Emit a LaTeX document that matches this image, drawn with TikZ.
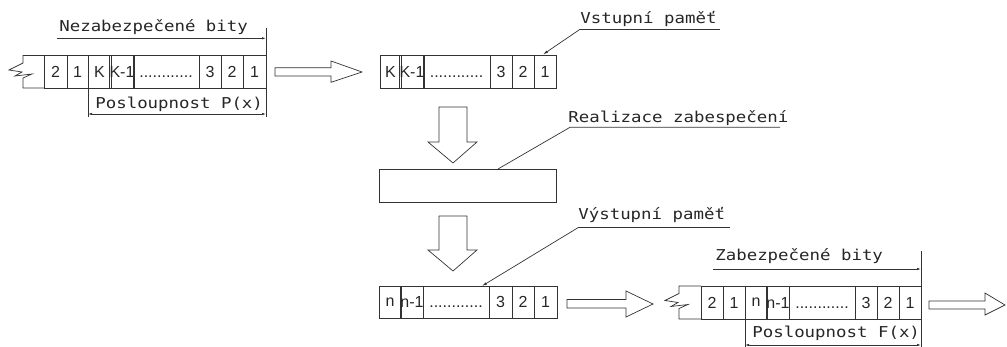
\documentclass[tikz,border=0pt]{standalone}
\usepackage{fontspec}
\newfontfamily\cadfont[FakeStretch=1.16]{DejaVu Sans Mono}
\newfontfamily\cellfont{Liberation Sans}
\usetikzlibrary{arrows.meta}
\newcommand\cellnode[6]{\node[cellbox, minimum width={#3-#2}, minimum height={#5-#4}] (#1) at ({(#2+#3)/2},{(#4+#5)/2}) {#6};}
\newcommand\celldots{\vphantom{1}............}
\begin{document}
\begin{tikzpicture}[x=1pt,y=-1pt,line width=0.7pt,color=black!80,
  cellbox/.style={draw=black!80, inner sep=0pt, outer sep=0pt, font=\cellfont\fontsize{16}{16}\selectfont, text=black!85},
  cadlabel/.style={inner sep=0pt, font=\cadfont\fontsize{15}{18}\selectfont, text=black!85},
  dimtip/.style={-{Latex[length=4pt,width=2.4pt]}},
  dimtips/.style={{Latex[length=4pt,width=2.4pt]}-{Latex[length=4pt,width=2.4pt]}},
  leadtip/.style={-{Latex[length=5pt,width=2.6pt]}},
  hollow/.style={draw=black!80, fill=white, line width=0.7pt}]
\useasboundingbox (0,0) rectangle (1007,347);

% ---------- row 1 (input stream)
\draw (44,55.5) -- (23,55.5) -- (23,63) -- (9,70) -- (22,72) -- (15,76) -- (32,74) -- (23,78) -- (23,88) -- (44,88);
\cellnode{a1}{44}{67}{55.5}{88}{2}
\cellnode{a2}{67}{88}{55.5}{88}{1}
\cellnode{a3}{88}{111}{55.5}{88}{K}
\cellnode{a4}{111}{133}{55.5}{88}{K-1}
\cellnode{a5}{133}{199}{55.5}{88}{\celldots}
\cellnode{a6}{199}{221}{55.5}{88}{3}
\cellnode{a7}{221}{243}{55.5}{88}{2}
\cellnode{a8}{243}{266}{55.5}{88}{1}

\node[cadlabel, anchor=base west] (nezab) at (59,31.7) {Nezabezpečené bity};
\coordinate (d1l) at (57,38.3);
\coordinate (d1r) at (266,38.3);
\draw[dimtip] (d1l) -- (d1r);
\draw (266,28) -- (a8.north east);
\node[cadlabel, anchor=base west] (poslP) at (95,108.5) {Posloupnost P(x)};
\coordinate (d2l) at (88,114);
\coordinate (d2r) at (266,114);
\draw[dimtips] (d2l) -- (d2r);
\draw (a3.south west) -- (88,117);
\draw (a8.south east) -- (266,117);

% hollow arrow 1
\draw[hollow] (275,67.7) -- (331,67.7) -- (331,61) -- (362,72) -- (331,82.3) -- (331,76) -- (275,76) -- cycle;

% ---------- row 2 (input memory)
\cellnode{b1}{380}{401}{55}{88}{K}
\cellnode{b2}{401}{423}{55}{88}{K-1}
\cellnode{b3}{423}{490}{55}{88}{\celldots}
\cellnode{b4}{490}{512}{55}{88}{3}
\cellnode{b5}{512}{534}{55}{88}{2}
\cellnode{b6}{534}{556}{55}{88}{1}
\node[cadlabel, anchor=base west] (vstup) at (580,24) {Vstupní paměť};
\coordinate (vsl) at (580,29.3);
\coordinate (vsr) at (720,29.3);
\draw (vsr) -- (vsl);
\draw[leadtip] (vsl) -- (543,54.5);

% down arrow 1
\draw[hollow] (439,107) -- (467,107) -- (467,142) -- (477,142) -- (453,163) -- (428,142) -- (439,142) -- cycle;

% ---------- processing block
\node[draw=black!80, inner sep=0pt, minimum width=177pt, minimum height=33pt] (proc) at (467.5,185.5) {};
\node[cadlabel, anchor=base west] (real) at (568,122.3) {Realizace zabespečení};
\coordinate (rel) at (570,127.3);
\coordinate (rer) at (780,127.3);
\draw (rer) -- (rel) -- (498,169);

% down arrow 2
\draw[hollow] (439,216) -- (467,216) -- (467,250) -- (477,250) -- (453,271) -- (428,250) -- (439,250) -- cycle;

% ---------- row 3 (output memory)
\cellnode{c1}{379}{401}{286}{318.5}{n}
\cellnode{c2}{401}{423}{286}{318.5}{n-1}
\cellnode{c3}{423}{489}{286}{318.5}{\celldots}
\cellnode{c4}{489}{512}{286}{318.5}{3}
\cellnode{c5}{512}{534}{286}{318.5}{2}
\cellnode{c6}{534}{557}{286}{318.5}{1}
\node[cadlabel, anchor=base west] (vystup) at (578,220) {Výstupní paměť};
\coordinate (vyl) at (578,227.7);
\coordinate (vyr) at (730,227.7);
\draw (vyr) -- (vyl);
\draw[leadtip] (vyl) -- (482,286);

% hollow arrow 2
\draw[hollow] (567,299.5) -- (626,299.5) -- (626,291) -- (653,304) -- (626,317) -- (626,308) -- (567,308) -- cycle;

% ---------- row 4 (output stream)
\draw (701,286) -- (679,286) -- (679,293.5) -- (665,300.5) -- (678,302.5) -- (671,306.5) -- (688,304.5) -- (679,308.5) -- (679,319) -- (701,319);
\cellnode{e1}{701}{723}{286}{319}{2}
\cellnode{e2}{723}{745}{286}{319}{1}
\cellnode{e3}{745}{767}{286}{319}{n}
\cellnode{e4}{767}{789}{286}{319}{n-1}
\cellnode{e5}{789}{855}{286}{319}{\celldots}
\cellnode{e6}{855}{877}{286}{319}{3}
\cellnode{e7}{877}{899}{286}{319}{2}
\cellnode{e8}{899}{921}{286}{319}{1}

\node[cadlabel, anchor=base west] (zabez) at (715,261) {Zabezpečené bity};
\coordinate (d3l) at (713,269);
\coordinate (d3r) at (921,269);
\draw[dimtip] (d3l) -- (d3r);
\draw (921,251) -- (e8.north east);
\node[cadlabel, anchor=base west] (poslF) at (752,337.5) {Posloupnost F(x)};
\coordinate (d4l) at (745,345);
\coordinate (d4r) at (921,345);
\draw[dimtips] (d4l) -- (d4r);
\draw (e3.south west) -- (745,347);
\draw (e8.south east) -- (921,347);

% hollow arrow 3
\draw[hollow] (929,301) -- (985,301) -- (985,293) -- (1005,305) -- (985,315) -- (985,309) -- (929,309) -- cycle;
\end{tikzpicture}
\end{document}
